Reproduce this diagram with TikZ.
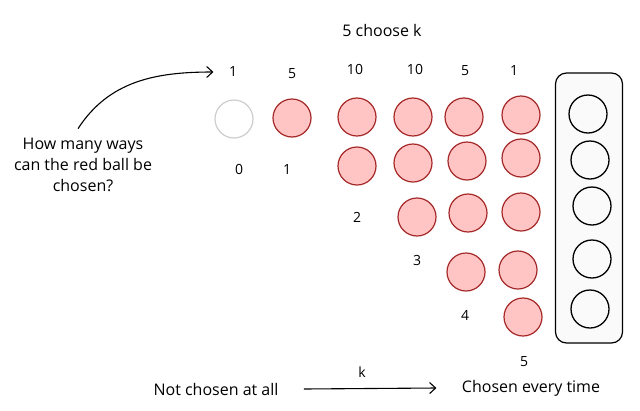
\documentclass[tikz,border=0pt]{standalone}
\usepackage{fontspec}
\setmainfont{Open Sans}
\usetikzlibrary{positioning,arrows.meta}
\definecolor{ballred}{RGB}{255,196,196}
\definecolor{balledge}{RGB}{165,40,40}
\definecolor{ghostedge}{RGB}{205,205,205}
\definecolor{boxfill}{RGB}{250,250,250}

\begin{document}
\begin{tikzpicture}[x=1pt, y=-1pt,
    every node/.style={font=\fontsize{14}{17}\selectfont},
    words/.style={font=\fontsize{16}{21}\selectfont},
    redball/.style={circle, draw=balledge, fill=ballred, line width=1.2pt,
                    minimum size=38pt, inner sep=0pt},
    ghostball/.style={circle, draw=ghostedge, line width=1.2pt,
                      minimum size=38pt, inner sep=0pt},
    slotball/.style={circle, draw=black, line width=1.3pt,
                     minimum size=38pt, inner sep=0pt},
    arr/.style={-{Straight Barb[length=6pt,width=11pt]}, line width=1.1pt}]
  \useasboundingbox (0,0) rectangle (640,410);

  % heading and top counts
  \node[words] (head) at (382,30) {5 choose k};
  \foreach \name/\x/\y/\txt in {t0/233/72/1, t1/292/74/5, t2/355/69/10,
                                t3/415/69/10, t4/465/71/5, t5/514/71/1}
    \node (\name) at (\x,\y) {\txt};

  % balls
  \node[ghostball] (g0) at (234,119) {};
  \foreach \name/\x/\y in {r11/292/118, r12/357/117, r13/413/117, r14/464/117, r15/521/115,
                           r22/357/166, r23/413/163, r24/467/161, r25/521/158,
                           r33/417/217, r34/468/213, r35/521/212,
                           r44/466/272, r45/518/270,
                           r55/523/317}
    \node[redball] (\name) at (\x,\y) {};

  % k labels
  \foreach \name/\x/\y/\txt in {k0/239/169/0, k1/287/169/1, k2/357/217/2,
                                k3/417/260/3, k4/465/315/4, k5/524/362/5}
    \node (\name) at (\x,\y) {\txt};

  % the five slots
  \node[draw, line width=1.2pt, fill=boxfill, rounded corners=11pt,
        minimum width=67pt, minimum height=270pt] (slots) at (589,208) {};
  \foreach \name/\x/\y in {s1/588/114, s2/590/160, s3/592/206, s4/592/259, s5/590/309}
    \node[slotball] (\name) at (\x,\y) {};

  % question
  \node[words, align=center] (ask) at (83,165)
    {How many ways\\can the red ball be\\chosen?};
  \draw[arr] ([shift={(-5pt,6pt)}]ask.north) to[out=57,in=180] ([xshift=-12pt]t0.west);

  % bottom axis
  \node[words] (never) at (216,389) {Not chosen at all};
  \node[words] (always) at (531,388) {Chosen every time};
  \draw[arr] ([xshift=22pt]never.east) -- ([xshift=-22pt]always.west);
  \node (kk) at (362,372) {k};
\end{tikzpicture}
\end{document}
